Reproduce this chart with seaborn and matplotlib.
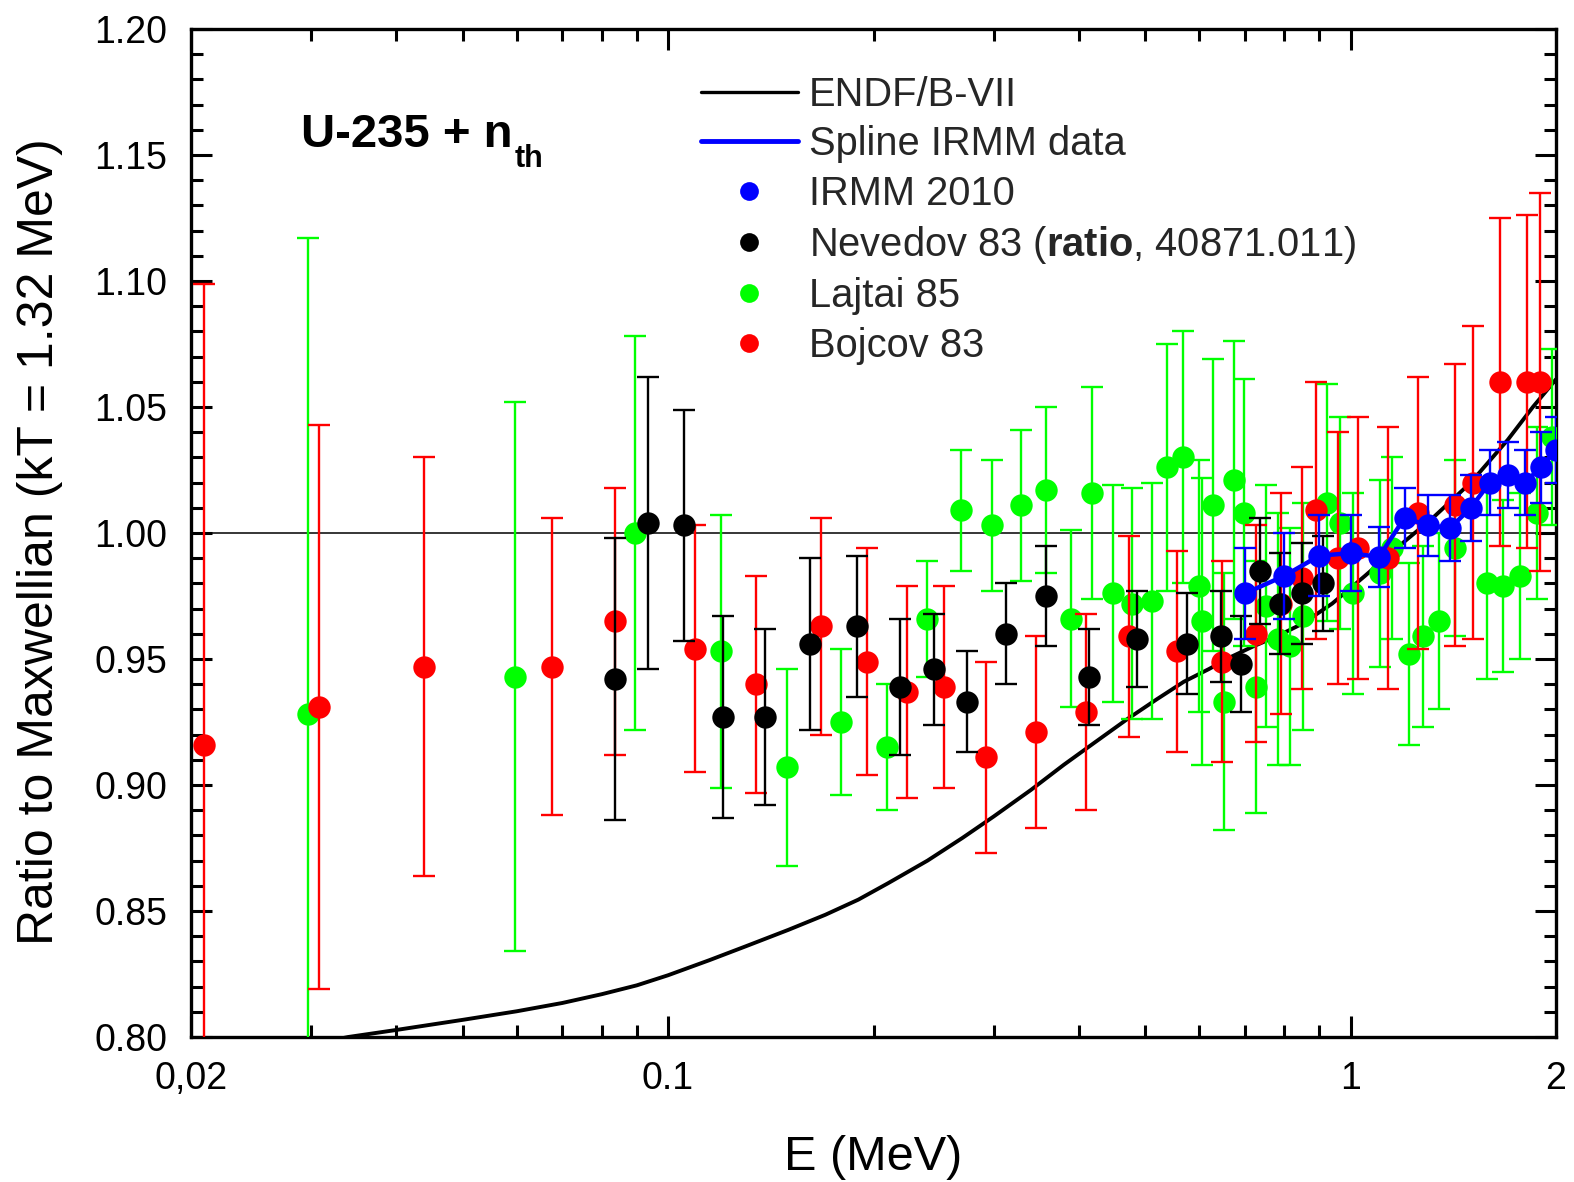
import matplotlib
matplotlib.use("Agg")
import matplotlib.pyplot as plt
from matplotlib.lines import Line2D
from matplotlib.ticker import FixedLocator, FixedFormatter, NullFormatter, MultipleLocator, FormatStrFormatter
import seaborn as sns

# ---------------- data ----------------
endf_e = [0.030, 0.034, 0.040, 0.050, 0.060, 0.070, 0.080, 0.090, 0.100, 0.115,
          0.130, 0.150, 0.170, 0.190, 0.210, 0.240, 0.270, 0.300, 0.340, 0.380,
          0.420, 0.470, 0.520, 0.570, 0.620, 0.670, 0.720, 0.780, 0.850, 0.940,
          1.05, 1.18, 1.32, 1.50, 1.70, 1.85, 2.0]
endf_r = [0.797, 0.800, 0.8028, 0.8068, 0.8102, 0.8135, 0.817, 0.8205, 0.8245, 0.8305,
          0.836, 0.8425, 0.8485, 0.8545, 0.861, 0.870, 0.879, 0.8875, 0.898, 0.908,
          0.9165, 0.926, 0.934, 0.941, 0.946, 0.951, 0.955, 0.959, 0.964, 0.972,
          0.983, 0.995, 1.006, 1.020, 1.037, 1.050, 1.061]

irmm_e = [0.7, 0.8, 0.9, 1.0, 1.1, 1.2, 1.3, 1.4, 1.5, 1.6, 1.7, 1.8, 1.9, 2.0]
irmm_r = [0.976, 0.983, 0.991, 0.992, 0.9905, 1.006, 1.003, 1.002, 1.010, 1.020,
          1.023, 1.020, 1.026, 1.033]
irmm_err = [0.018, 0.017, 0.016, 0.015, 0.012, 0.012, 0.012, 0.013, 0.013, 0.013,
            0.013, 0.013, 0.014, 0.013]

nev_e = [0.0836, 0.0935, 0.1055, 0.1204, 0.1388, 0.1616, 0.1893, 0.2188, 0.2455, 0.2745,
         0.313, 0.358, 0.414, 0.486, 0.575, 0.647, 0.690, 0.736, 0.789, 0.848, 0.910]
nev_r = [0.942, 1.004, 1.003, 0.927, 0.927, 0.956, 0.963, 0.939, 0.946, 0.933,
         0.960, 0.975, 0.943, 0.958, 0.956, 0.959, 0.948, 0.985, 0.972, 0.976, 0.980]
nev_err = [0.056, 0.058, 0.046, 0.040, 0.035, 0.034, 0.028, 0.027, 0.022, 0.020,
           0.020, 0.020, 0.019, 0.019, 0.020, 0.018, 0.019, 0.021, 0.020, 0.020, 0.019]

laj_e = [0.0297, 0.0597, 0.0895, 0.1196, 0.1495, 0.1794, 0.2095, 0.2398, 0.269, 0.2985,
         0.3293, 0.358, 0.390, 0.4185, 0.4494, 0.479, 0.511, 0.539, 0.569, 0.6005,
         0.6067, 0.628, 0.6515, 0.676, 0.699, 0.728, 0.753, 0.782, 0.814, 0.851,
         0.925, 0.964, 1.007, 1.103, 1.152, 1.217, 1.279, 1.346, 1.421, 1.582,
         1.671, 1.769, 1.874, 1.971]
laj_r = [0.928, 0.943, 1.000, 0.953, 0.907, 0.925, 0.915, 0.966, 1.009, 1.003,
         1.011, 1.017, 0.966, 1.016, 0.976, 0.972, 0.973, 1.026, 1.030, 0.979,
         0.965, 1.011, 0.933, 1.021, 1.008, 0.939, 0.971, 0.958, 0.955, 0.967,
         1.012, 1.004, 0.976, 0.984, 0.994, 0.952, 0.959, 0.965, 0.994, 0.980,
         0.979, 0.983, 1.008, 1.038]
laj_err = [0.189, 0.109, 0.078, 0.054, 0.039, 0.029, 0.025, 0.023, 0.024, 0.026,
           0.030, 0.033, 0.035, 0.042, 0.043, 0.046, 0.047, 0.049, 0.050, 0.050,
           0.057, 0.058, 0.051, 0.055, 0.053, 0.050, 0.048, 0.050, 0.047, 0.045,
           0.047, 0.042, 0.040, 0.037, 0.036, 0.036, 0.036, 0.035, 0.035, 0.038,
           0.034, 0.033, 0.034, 0.035]

boj_e = [0.0209, 0.0308, 0.0439, 0.0676, 0.0836, 0.1095, 0.1346, 0.1676, 0.1957, 0.224,
         0.254, 0.2926, 0.3464, 0.410, 0.474, 0.557, 0.649, 0.728, 0.792, 0.848,
         0.891, 0.957, 1.024, 1.133, 1.254, 1.421, 1.510, 1.654, 1.812, 1.892]
boj_r = [0.916, 0.931, 0.947, 0.947, 0.965, 0.954, 0.940, 0.963, 0.949, 0.937,
         0.939, 0.911, 0.921, 0.929, 0.959, 0.953, 0.949, 0.960, 0.972, 0.982,
         1.009, 0.990, 0.994, 0.990, 1.008, 1.011, 1.020, 1.060, 1.060, 1.060]
boj_err = [0.183, 0.112, 0.083, 0.059, 0.053, 0.049, 0.043, 0.043, 0.045, 0.042,
           0.040, 0.038, 0.038, 0.039, 0.040, 0.040, 0.040, 0.043, 0.044, 0.044,
           0.051, 0.050, 0.052, 0.052, 0.054, 0.056, 0.062, 0.065, 0.066, 0.075]

x_major = [0.02, 0.1, 1, 2]
x_major_labels = ["0,02", "0.1", "1", "2"]
x_minor = [0.03, 0.04, 0.05, 0.06, 0.07, 0.08, 0.09,
           0.2, 0.3, 0.4, 0.5, 0.6, 0.7, 0.8, 0.9]

legend_labels = ["ENDF/B-VII", "Spline IRMM data", "IRMM 2010",
                 r"Nevedov 83 ($\mathbf{ratio}$, 40871.011)", "Lajtai 85", "Bojcov 83"]

GREEN = "#00ff00"
RED = "#ff0000"
BLUE = "#0000ff"
BLACK = "#000000"

# ---------------- style ----------------
sns.set_theme(style="ticks")
plt.rcParams["font.family"] = ["Liberation Sans", "DejaVu Sans"]
plt.rcParams["mathtext.fontset"] = "custom"
plt.rcParams["mathtext.rm"] = "Liberation Sans"
plt.rcParams["mathtext.it"] = "Liberation Sans:italic"
plt.rcParams["mathtext.bf"] = "Liberation Sans:bold"

W, H = 1574, 1182
fig = plt.figure(figsize=(W / 100, H / 100), dpi=100)
fig.patch.set_facecolor("white")
ax = fig.add_axes([191 / W, 1 - 1037 / H, (1556 - 191) / W, (1037 - 29) / H])
ax.set_facecolor("white")
ax.set_xscale("log")

ax.axhline(1.0, color=BLACK, lw=1.1, zorder=1)
sns.lineplot(x=endf_e, y=endf_r, ax=ax, color=BLACK, lw=2.8, zorder=2,
             sort=False, estimator=None)

MS = 260
series = [
    (laj_e, laj_r, laj_err, GREEN, 3),
    (boj_e, boj_r, boj_err, RED, 4),
    (nev_e, nev_r, nev_err, BLACK, 5),
]
for e, r, err, c, z in series:
    ax.errorbar(e, r, yerr=err, fmt="none", ecolor=c, elinewidth=1.7,
                capsize=8, capthick=1.7, zorder=z)
    sns.scatterplot(x=e, y=r, ax=ax, color=c, s=MS, linewidth=0,
                    zorder=z + 0.5, legend=False)

ax.errorbar(irmm_e, irmm_r, yerr=irmm_err, fmt="none", ecolor=BLUE, elinewidth=1.7,
            capsize=8, capthick=1.7, zorder=7)
sns.lineplot(x=irmm_e, y=irmm_r, ax=ax, color=BLUE, lw=3.2, zorder=7.2,
             sort=False, estimator=None)
sns.scatterplot(x=irmm_e, y=irmm_r, ax=ax, color=BLUE, s=MS, linewidth=0,
                zorder=7.5, legend=False)

ax.set_xlim(0.02, 2)
ax.set_ylim(0.80, 1.20)

ax.xaxis.set_major_locator(FixedLocator(x_major))
ax.xaxis.set_major_formatter(FixedFormatter(x_major_labels))
ax.xaxis.set_minor_locator(FixedLocator(x_minor))
ax.xaxis.set_minor_formatter(NullFormatter())
ax.yaxis.set_major_locator(MultipleLocator(0.05))
ax.yaxis.set_minor_locator(MultipleLocator(0.01))
ax.yaxis.set_major_formatter(FormatStrFormatter("%.2f"))

ax.tick_params(which="both", direction="in", top=True, right=True, width=2.2,
               color=BLACK, labelcolor=BLACK)
ax.tick_params(which="major", length=15, labelsize=27)
ax.tick_params(which="minor", length=8.5)
ax.tick_params(axis="y", which="major", pad=17)
ax.tick_params(axis="x", which="major", pad=17)
for sp in ax.spines.values():
    sp.set_linewidth(2.4)
    sp.set_color(BLACK)
    sp.set_visible(True)

ax.set_xlabel("E (MeV)", fontsize=35, color=BLACK)
ax.set_ylabel("Ratio to Maxwellian (kT = 1.32 MeV)", fontsize=36, color=BLACK)
ax.xaxis.set_label_coords(0.5, -0.097)
ax.yaxis.set_label_coords(-0.094, 0.491)

# annotation "U-235 + n_th"
renderer = fig.canvas.get_renderer()
t_main = fig.text(301 / W, 1 - 147 / H, "U-235 + n", fontsize=34,
                  fontweight="bold", ha="left", va="baseline", color=BLACK)
bb = t_main.get_window_extent(renderer=renderer)
fig.text((bb.x1 + 2) / W, 1 - 167 / H, "th", fontsize=22,
         fontweight="bold", ha="left", va="baseline", color=BLACK)

handles = [
    Line2D([], [], color=BLACK, lw=2.4),
    Line2D([], [], color=BLUE, lw=3.5),
    Line2D([], [], color=BLUE, marker="o", ls="none", ms=13.5, mew=0),
    Line2D([], [], color=BLACK, marker="o", ls="none", ms=13.5, mew=0),
    Line2D([], [], color=GREEN, marker="o", ls="none", ms=13.5, mew=0),
    Line2D([], [], color=RED, marker="o", ls="none", ms=13.5, mew=0),
]
ax.legend(handles, legend_labels, loc="upper left",
          bbox_to_anchor=(701 / W, 1 - 76 / H), bbox_transform=fig.transFigure,
          frameon=False, fontsize=28.7, handlelength=2.43, handletextpad=0.27,
          labelspacing=0.285, borderpad=0, borderaxespad=0)

fig.savefig("out.png", dpi=100, facecolor="white")
